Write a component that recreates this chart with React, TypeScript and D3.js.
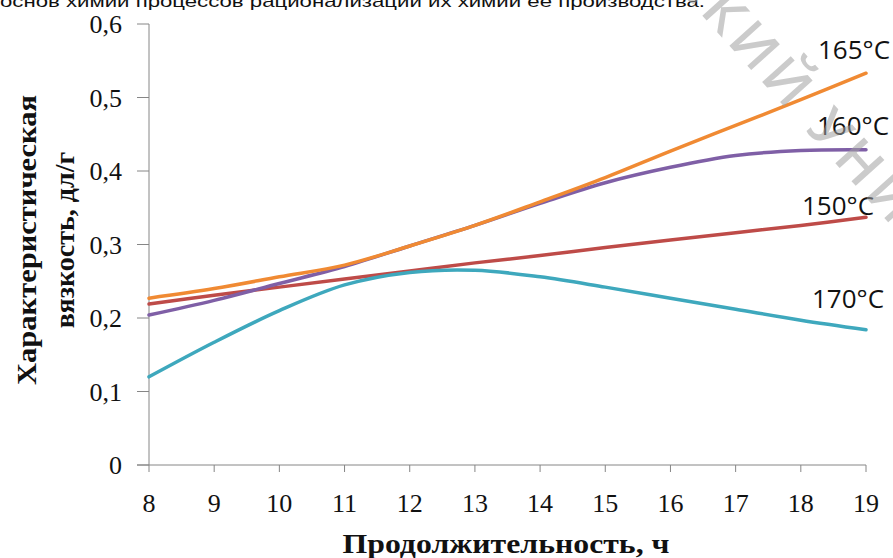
import React from "react";
import * as d3 from "d3";

const hours = [8, 9, 10, 11, 12, 13, 14, 15, 16, 17, 18, 19];
const v150 = [0.219, 0.231, 0.242, 0.253, 0.264, 0.275, 0.285, 0.296, 0.306, 0.316, 0.326, 0.337];
const v160 = [0.204, 0.224, 0.247, 0.27, 0.298, 0.326, 0.356, 0.384, 0.405, 0.421, 0.428, 0.429];
const v165 = [0.227, 0.24, 0.256, 0.272, 0.298, 0.326, 0.358, 0.391, 0.427, 0.462, 0.497, 0.533];
const v170 = [0.12, 0.167, 0.21, 0.245, 0.262, 0.265, 0.256, 0.242, 0.227, 0.212, 0.197, 0.184];
const yTicks = [0, 0.1, 0.2, 0.3, 0.4, 0.5, 0.6];
const xTicks = hours;

const series = [
  { name: "150°C", values: v150, color: "#be4b48", lx: 802, ly: 215 },
  { name: "160°C", values: v160, color: "#7f5fa6", lx: 817, ly: 135 },
  { name: "170°C", values: v170, color: "#3ea8bd", lx: 812, ly: 308 },
  { name: "165°C", values: v165, color: "#f08a33", lx: 818, ly: 59 },
];

const W = 893;
const H = 558;

export default function App() {
  const x = d3.scaleLinear().domain([8, 19]).range([149, 866]);
  const y = d3.scaleLinear().domain([0, 0.6]).range([465, 24]);
  const line = d3
    .line<number>()
    .x((_, i) => x(hours[i]))
    .y((d) => y(d))
    .curve(d3.curveCatmullRom.alpha(0.5));
  const axisColor = "#868686";
  const fmt = (v: number) => (v === 0 ? "0" : v.toFixed(1).replace(".", ","));
  return (
    <svg
      width={W}
      height={H}
      style={{ position: "fixed", left: 0, top: 0, background: "#fff" }}
    >
      <rect width={W} height={H} fill="#fff" />
      <text
        x={0}
        y={7}
        fontFamily="'Liberation Sans', Arial, sans-serif"
        fontSize={17}
        fill="#111"
        textLength={705}
        lengthAdjust="spacingAndGlyphs"
      >
        основ химии процессов рационализации их химии ее производства.
      </text>
      {/* axes */}
      <line x1={149} x2={149} y1={y(0.6)} y2={y(0)} stroke={axisColor} strokeWidth={1} />
      <line x1={137} x2={x(19)} y1={y(0)} y2={y(0)} stroke={axisColor} strokeWidth={1} />
      {yTicks.map((t) => (
        <g key={"y" + t}>
          <line x1={137} x2={149} y1={y(t)} y2={y(t)} stroke={axisColor} strokeWidth={1} />
          <text
            x={122}
            y={y(t) + 9}
            textAnchor="end"
            fontFamily="'Liberation Serif', 'Times New Roman', serif"
            fontSize={26}
            fill="#111"
          >
            {fmt(t)}
          </text>
        </g>
      ))}
      {xTicks.map((t) => (
        <g key={"x" + t}>
          <line x1={x(t)} x2={x(t)} y1={y(0)} y2={y(0) + 7} stroke={axisColor} strokeWidth={1} />
          <text
            x={x(t)}
            y={512}
            textAnchor="middle"
            fontFamily="'Liberation Serif', 'Times New Roman', serif"
            fontSize={26}
            fill="#111"
          >
            {t}
          </text>
        </g>
      ))}
      <text
        x={506}
        y={553}
        textAnchor="middle"
        fontFamily="'Liberation Serif', 'Times New Roman', serif"
        fontWeight="bold"
        fontSize={27}
        fill="#111"
        textLength={327}
        lengthAdjust="spacingAndGlyphs"
      >
        Продолжительность,  ч
      </text>
      <g transform="translate(36,240) rotate(-90)">
        <text
          x={0}
          y={0}
          textAnchor="middle"
          fontFamily="'Liberation Serif', 'Times New Roman', serif"
          fontWeight="bold"
          fontSize={28}
          fill="#111"
          textLength={290}
          lengthAdjust="spacingAndGlyphs"
        >
          Характеристическая
        </text>
        <text
          x={0}
          y={38}
          textAnchor="middle"
          fontFamily="'Liberation Serif', 'Times New Roman', serif"
          fontWeight="bold"
          fontSize={28}
          fill="#111"
        >
          вязкость, дл/г
        </text>
      </g>
      {/* lines */}
      {series.map((s) => (
        <path
          key={s.name}
          d={line(s.values) || ""}
          fill="none"
          stroke={s.color}
          strokeWidth={3.5}
          strokeLinecap="round"
        />
      ))}
      {series.map((s) => (
        <text
          key={"l" + s.name}
          x={s.lx}
          y={s.ly}
          fontFamily="'Open Sans', 'Noto Sans', sans-serif"
          fontSize={26}
          fill="#111"
        >
          {s.name}
        </text>
      ))}
      {/* watermark */}
      <text
        transform="translate(672,-18) rotate(48)"
        fontFamily="'Open Sans', 'Noto Sans', sans-serif"
        fontSize={54}
        fontWeight={600}
        letterSpacing={6}
        fill="#a0a0a0"
        fillOpacity={0.55}
      >
        СКИЙ УНИВЕРСИТЕТ
      </text>
    </svg>
  );
}
